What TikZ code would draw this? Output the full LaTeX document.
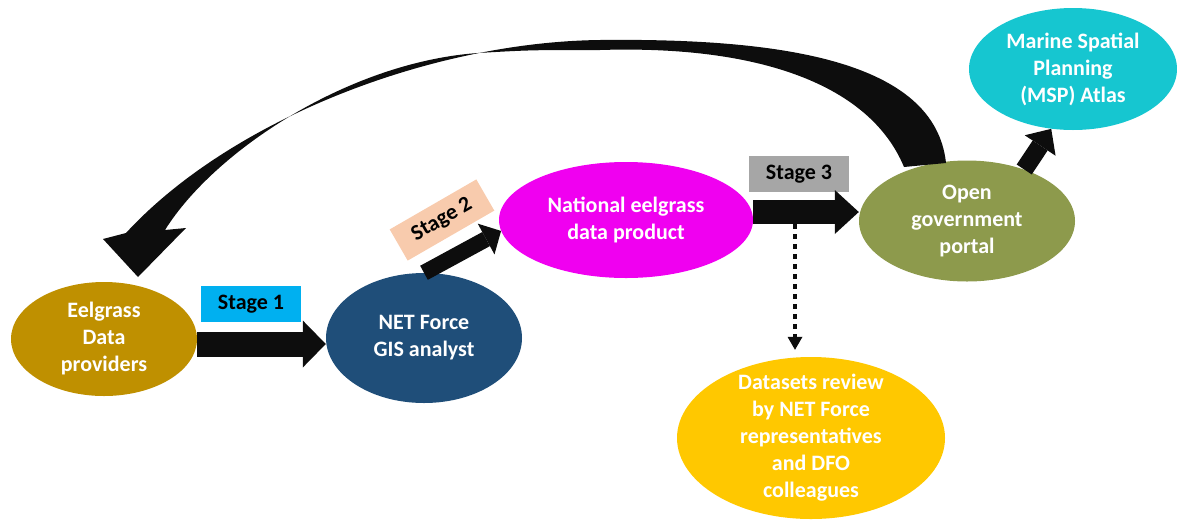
\documentclass[tikz,border=0pt]{standalone}
\usepackage{fontspec}
\setmainfont{Carlito}
\usetikzlibrary{shapes.geometric, arrows.meta, positioning}
\definecolor{provgold}{RGB}{191,144,0}
\definecolor{netblue}{RGB}{31,78,121}
\definecolor{natpink}{RGB}{240,0,240}
\definecolor{govolive}{RGB}{141,154,76}
\definecolor{mspcyan}{RGB}{22,198,208}
\definecolor{revyellow}{RGB}{255,200,0}
\definecolor{stageblue}{RGB}{0,176,240}
\definecolor{stagepeach}{RGB}{248,203,173}
\definecolor{stagegrey}{RGB}{166,166,166}
\definecolor{arrowblack}{RGB}{13,13,13}
\tikzset{
    blob/.style={ellipse, inner sep=0pt},
    blobtext/.style={text=white, font=\fontsize{22}{27}\selectfont\bfseries, align=center},
    stagebox/.style={minimum width=100pt, minimum height=36pt, inner sep=0pt,
        font=\fontsize{22}{26}\selectfont\bfseries},
    blockarrow/.style={draw=arrowblack, line width=#1},
}

\begin{document}
\begin{tikzpicture}[x=1pt, y=-1pt]
\useasboundingbox (0,0) rectangle (1177,520);
% ellipses
\node[blob, fill=provgold, minimum width=186pt, minimum height=114pt,
    label={[blobtext]center:{Eelgrass\\Data\\providers}}] (prov) at (104,339) {};
\node[blob, fill=netblue, minimum width=196pt, minimum height=130pt,
    label={[blobtext]center:{NET Force\\GIS analyst}}] (gis) at (424,338) {};
\node[blob, fill=natpink, minimum width=254pt, minimum height=116pt,
    label={[blobtext]center:{National eelgrass\\data product}}] (nat) at (626,220) {};
\node[blob, fill=govolive, minimum width=216pt, minimum height=121pt,
    label={[blobtext]center:{Open\\government\\portal}}] (gov) at (967,221) {};
\node[blob, fill=mspcyan, minimum width=208pt, minimum height=122pt,
    label={[blobtext]center:{Marine Spatial\\Planning\\(MSP) Atlas}}] (msp) at (1073,69) {};
\node[blob, fill=revyellow, minimum width=268pt, minimum height=162pt,
    label={[blobtext]center:{Datasets review\\by NET Force\\representatives\\and DFO\\colleagues}}] (rev) at (811,438) {};
% stage labels
\node[stagebox, fill=stageblue] (s1) at (251,304) {Stage 1};
\node[stagebox, fill=stagepeach, rotate=30] (s2) at (442,220) {Stage 2};
\node[stagebox, fill=stagegrey] (s3) at (799,174) {Stage 3};
% block arrows
\draw[blockarrow=25pt, -{Triangle[width=47pt, length=23pt, line width=0pt]}]
    ([yshift=-5pt]prov.east) -- ([yshift=-5pt]prov.east -| gis.west);
\draw[blockarrow=16pt, -{Triangle[width=35pt, length=17pt, line width=0pt]}]
    (gis.north) -- (nat.185);
\draw[blockarrow=24pt, -{Triangle[width=44pt, length=24pt, line width=0pt]}]
    ([yshift=8pt]nat.east) -- ([yshift=8pt]nat.east -| gov.west);
\draw[blockarrow=18pt, -{Triangle[width=37pt, length=20pt, line width=0pt]}]
    (gov.42) -- (msp.250);
% review branch
\coordinate (split) at (795,224);
\draw[arrowblack, line width=3.5pt, dash pattern=on 5pt off 5pt,
    -{Triangle[width=15pt, length=13pt, line width=0pt]}]
    (split) -- ([yshift=7pt]split |- rev.north);
% feedback arrow
\fill[arrowblack] (946,163) .. controls (935,60) and (780,38) .. (600,40)
    .. controls (430,42) and (230,120) .. (126,233)
    -- (103,239) -- (138,277) -- (186,228) -- (165,230)
    .. controls (215,150) and (350,62) .. (478,53)
    .. controls (530,50) .. (600,50)
    .. controls (760,45) and (870,85) .. (904,167) -- cycle;
\end{tikzpicture}
\end{document}
